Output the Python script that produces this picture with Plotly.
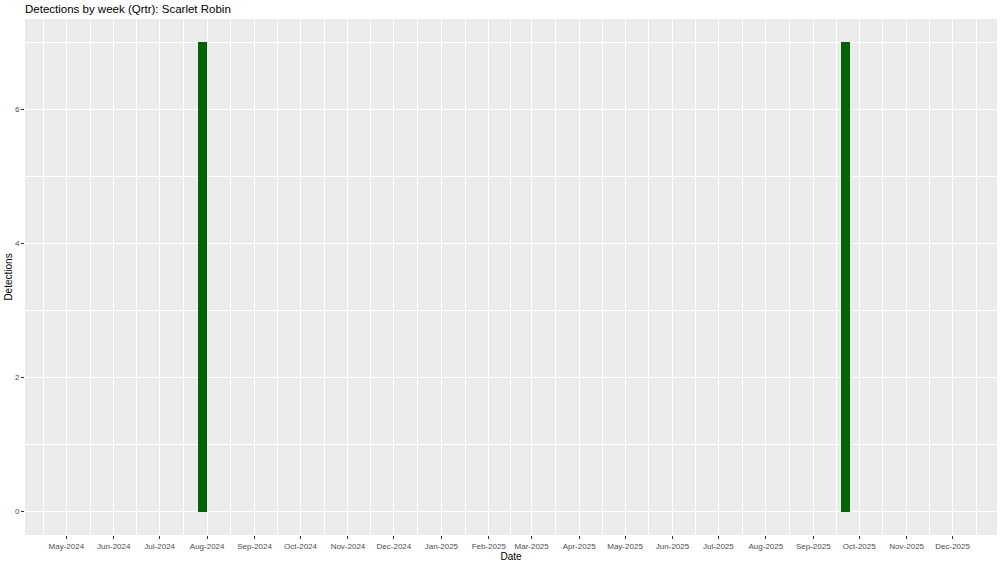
import plotly.graph_objects as go
import pandas as pd

# Data
week_dates = ["2024-07-29", "2025-09-22"]
detections = [7, 7]
title_text = "Detections by week (Qrtr): Scarlet Robin"
x_range = ["2024-04-04", "2025-12-30"]
major_months = pd.date_range("2024-05-01", "2025-12-01", freq="MS")
y_ticks = [0, 2, 4, 6]
y_minor = [1, 3, 5, 7]

# minor x gridlines at midpoints between month breaks (ggplot style)
all_months = pd.date_range("2024-04-01", "2026-01-01", freq="MS")
minor_x = [all_months[i] + (all_months[i + 1] - all_months[i]) / 2 for i in range(len(all_months) - 1)]

fig = go.Figure()
fig.add_trace(go.Bar(
    x=pd.to_datetime(week_dates),
    y=detections,
    width=6.3 * 86400000,
    marker=dict(color="#006400", line=dict(width=0)),
))

font_family = "Liberation Sans, Arial, sans-serif"
fig.update_layout(
    width=1000, height=562,
    margin=dict(l=25, r=3, t=19, b=27, autoexpand=False),
    paper_bgcolor="white",
    plot_bgcolor="#EBEBEB",
    showlegend=False,
    font=dict(family=font_family, color="#4D4D4D", size=8),
    title=dict(text=title_text, x=25 / 1000, xanchor="left", y=1 - 9 / 562, yanchor="middle",
               font=dict(size=11.5, color="black", family=font_family)),
    bargap=0,
)
fig.update_xaxes(
    range=x_range,
    automargin=False,
    tickmode="array",
    tickvals=list(major_months),
    ticktext=[d.strftime("%b-%Y") for d in major_months],
    showgrid=True, gridcolor="white", gridwidth=1.1,
    minor=dict(tickmode="array", tickvals=minor_x, showgrid=True, gridcolor="white", gridwidth=0.5, ticks=""),
    ticks="outside", ticklen=3, tickcolor="#333333", tickwidth=1,
    zeroline=False, showline=False,
    title=dict(text="Date", font=dict(size=10, color="black"), standoff=0),
    tickfont=dict(size=8, color="#4D4D4D"),
)
fig.update_yaxes(
    range=[-0.35, 7.35],
    automargin=False,
    tickmode="array",
    tickvals=y_ticks,
    ticktext=[str(v) for v in y_ticks],
    showgrid=True, gridcolor="white", gridwidth=1.1,
    minor=dict(tickmode="array", tickvals=y_minor, showgrid=True, gridcolor="white", gridwidth=0.5, ticks=""),
    ticks="outside", ticklen=3, tickcolor="#333333", tickwidth=1,
    zeroline=False, showline=False,
    title=dict(text="Detections", font=dict(size=10, color="black"), standoff=0),
    tickfont=dict(size=8, color="#4D4D4D"),
)

fig.write_html("out.html",
               config={"displayModeBar": False},
               post_script="document.body.style.margin='0';document.body.style.overflow='hidden';")
